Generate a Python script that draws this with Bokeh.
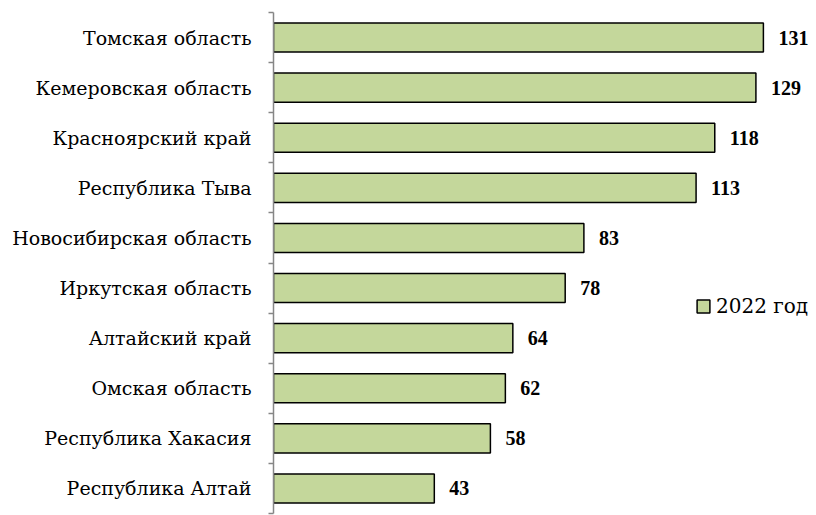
from bokeh.plotting import figure
from bokeh.models import ColumnDataSource, FixedTicker, Legend, LegendItem
from bokeh.embed import file_html
from bokeh.resources import INLINE

# Data (top to bottom as in the reference)
regions = ["Томская область", "Кемеровская область", "Красноярский край",
           "Республика Тыва", "Новосибирская область", "Иркутская область",
           "Алтайский край", "Омская область", "Республика Хакасия",
           "Республика Алтай"]
values = [131, 129, 118, 113, 83, 78, 64, 62, 58, 43]
series_name = "2022 год"

n = len(regions)
ypos = [n - i for i in range(n)]  # top item at highest y
labels = [str(v) for v in values]

src = ColumnDataSource(dict(y=ypos, v=values, name=regions, lab=labels))

BOLD_FONT = "Liberation Serif"
TEXT_FONT = "DejaVu Serif"

p = figure(width=816, height=515, output_backend="svg", toolbar_location=None,
           x_range=(0, 145.2), y_range=(0.5, n + 0.5),
           min_border_left=273, min_border_right=0, min_border_top=12,
           min_border_bottom=2)
p.outline_line_color = None
p.xgrid.visible = False
p.ygrid.visible = False
p.xaxis.visible = False

bars = p.hbar(y="y", left=0, right="v", height=0.58, source=src,
              fill_color="#C4D79B", line_color="#000000", line_width=1.5)

p.text(x="v", y="y", text="lab", source=src, x_offset=15,
       text_align="left", text_baseline="middle",
       text_font={"value": BOLD_FONT}, text_font_size="20px", text_font_style="bold",
       text_color="#000000")

yax = p.yaxis[0]
yax.ticker = FixedTicker(ticks=ypos, minor_ticks=[k + 0.5 for k in range(n + 1)])
yax.major_label_overrides = {y: r for y, r in zip(ypos, regions)}
yax.major_tick_out = 0
yax.major_tick_in = 0
yax.minor_tick_out = 5
yax.minor_tick_in = 0
yax.minor_tick_line_color = "#868686"
yax.minor_tick_line_width = 1.5
yax.axis_line_color = "#868686"
yax.axis_line_width = 1.5
yax.major_label_text_font = TEXT_FONT
yax.major_label_text_font_size = "19px"
yax.major_label_text_color = "#000000"
yax.major_label_standoff = 17

legend = Legend(items=[LegendItem(label=series_name, renderers=[bars])],
                location=(422, 195), orientation="vertical",
                background_fill_alpha=0, border_line_color=None,
                padding=0, margin=0, spacing=0,
                glyph_width=16, glyph_height=16, label_height=16,
                label_standoff=5,
                label_text_font=TEXT_FONT, label_text_font_size="20px",
                label_text_color="#000000")
p.add_layout(legend)

open("out.html", "w").write(file_html(p, INLINE))
